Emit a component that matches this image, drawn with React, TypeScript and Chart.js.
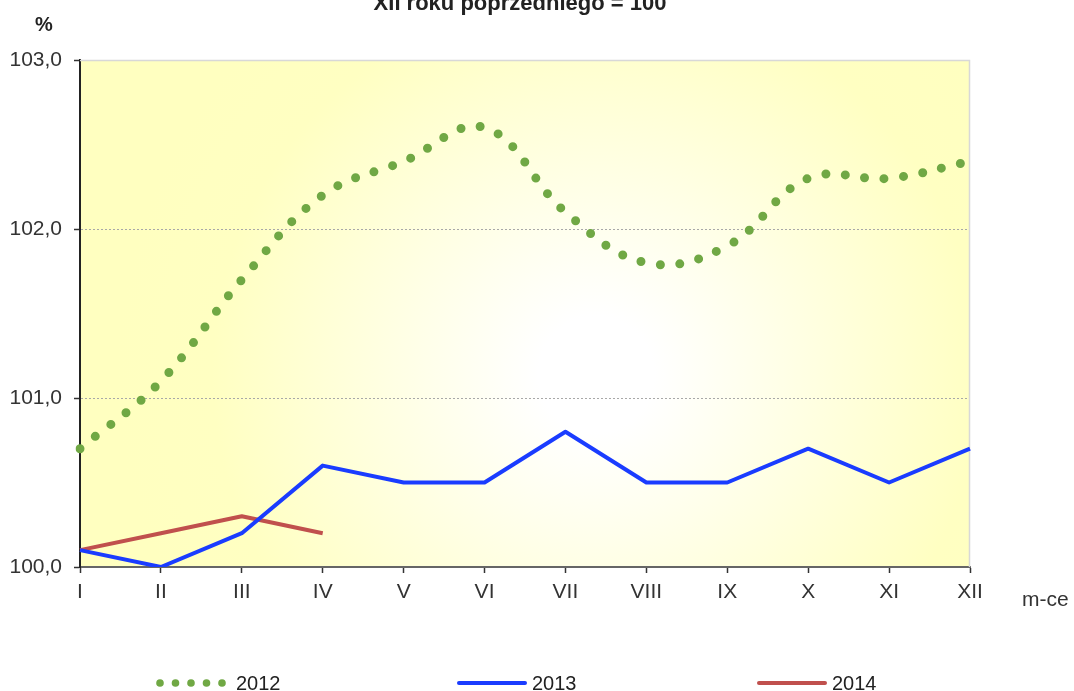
import React, { useEffect, useRef } from "react";
import { Chart, registerables } from "chart.js";

Chart.register(...registerables);

const months = ["I", "II", "III", "IV", "V", "VI", "VII", "VIII", "IX", "X", "XI", "XII"];
const series2012 = [100.7, 101.1, 101.7, 102.2, 102.4, 102.6, 102.1, 101.8, 101.9, 102.3, 102.3, 102.4];
const series2013 = [100.1, 100.0, 100.2, 100.6, 100.5, 100.5, 100.8, 100.5, 100.5, 100.7, 100.5, 100.7];
const series2014 = [100.1, 100.2, 100.3, 100.2];
const seriesLabels = ["2012", "2013", "2014"];
const yTickValues = [100, 101, 102, 103];
const titleText = "XII roku poprzedniego = 100";
const yUnit = "%";
const xUnit = "m-ce";

const FONT = "'Liberation Sans', Arial, sans-serif";

const decorPlugin = {
  id: "decor",
  beforeDraw(chart: any) {
    const { ctx, chartArea: a } = chart;
    const cx = a.left + (a.right - a.left) * 0.58;
    const cy = a.top + (a.bottom - a.top) * 0.62;
    ctx.save();
    const g2 = ctx.createRadialGradient(cx, cy, 0, cx, cy, 480);
    g2.addColorStop(0, "#ffffff");
    g2.addColorStop(0.12, "#ffffff");
    g2.addColorStop(0.8, "#ffffc2");
    g2.addColorStop(1, "#ffffc0");
    ctx.fillStyle = g2;
    ctx.fillRect(a.left, a.top, a.right - a.left, a.bottom - a.top);
    ctx.restore();
  },
  beforeDatasetsDraw(chart: any) {
    const { ctx, chartArea: a } = chart;
    ctx.save();
    ctx.strokeStyle = "#d8d8d8";
    ctx.lineWidth = 1.5;
    ctx.beginPath();
    ctx.moveTo(a.left, a.top + 0.5);
    ctx.lineTo(a.right - 0.5, a.top + 0.5);
    ctx.lineTo(a.right - 0.5, a.bottom);
    ctx.stroke();
    ctx.restore();
  },
  afterDraw(chart: any) {
    const { ctx } = chart;
    ctx.save();
    ctx.fillStyle = "#222";
    ctx.textAlign = "center";
    ctx.textBaseline = "alphabetic";
    ctx.font = `bold 22px ${FONT}`;
    ctx.fillText(titleText, 520, 10);
    ctx.font = `bold 20px ${FONT}`;
    ctx.textAlign = "left";
    ctx.fillText(yUnit, 35, 31);
    ctx.font = `21px ${FONT}`;
    ctx.fillStyle = "#333";
    ctx.fillText(xUnit, 1022, 606);

    // legend
    const items = chart.data.datasets;
    const starts = [158, 457, 757];
    const ly = 683;
    items.forEach((ds: any, i: number) => {
      const x0 = starts[i];
      ctx.strokeStyle = ds.borderColor;
      ctx.lineCap = "round";
      if (ds.borderDash && ds.borderDash.length) {
        ctx.fillStyle = ds.borderColor;
        for (let k = 0; k < 5; k++) {
          ctx.beginPath();
          ctx.arc(x0 + 2 + k * 15.5, ly, 3.8, 0, Math.PI * 2);
          ctx.fill();
        }
      } else {
        ctx.lineWidth = 4;
        ctx.beginPath();
        ctx.moveTo(x0 + 2, ly);
        ctx.lineTo(x0 + 68, ly);
        ctx.stroke();
      }
      ctx.fillStyle = "#222";
      ctx.font = `20px ${FONT}`;
      ctx.textAlign = "left";
      ctx.textBaseline = "middle";
      ctx.fillText(ds.label, x0 + (i === 0 ? 78 : 75), ly + 1);
    });
    ctx.restore();
  },
};

export default function App() {
  const ref = useRef<HTMLCanvasElement | null>(null);
  useEffect(() => {
    document.body.style.margin = "0";
    const canvas = ref.current!;
    const chart = new Chart(canvas, {
      type: "line",
      data: {
        labels: months,
        datasets: [
          {
            label: seriesLabels[0],
            data: series2012,
            borderColor: "#70a844",
            borderWidth: 9,
            borderDash: [0, 19.5],
            borderCapStyle: "round",
            tension: 0.4,
            pointRadius: 0,
            fill: false,
          },
          {
            label: seriesLabels[1],
            data: series2013,
            borderColor: "#1a3cff",
            borderWidth: 4,
            tension: 0,
            pointRadius: 0,
            borderJoinStyle: "round",
            fill: false,
          },
          {
            label: seriesLabels[2],
            data: series2014,
            borderColor: "#c0504d",
            borderWidth: 4,
            tension: 0,
            pointRadius: 0,
            borderJoinStyle: "round",
            fill: false,
          },
        ],
      },
      options: {
        animation: false,
        responsive: false,
        maintainAspectRatio: false,
        layout: { padding: { left: 0, top: 60, right: 104, bottom: 0 } },
        plugins: {
          legend: { display: false },
          tooltip: { enabled: false },
          title: { display: false },
        },
        scales: {
          x: {
            type: "category",
            offset: false,
            afterFit: (s: any) => {
              s.height = 124;
            },
            grid: {
              drawOnChartArea: false,
              tickLength: 6,
              tickColor: "#333",
              tickWidth: 1.5,
            },
            border: { color: "#666", width: 2 },
            ticks: {
              color: "#333",
              font: { family: FONT, size: 21 },
              padding: 7,
              maxRotation: 0,
              autoSkip: false,
            },
          },
          y: {
            min: 100,
            max: 103,
            afterFit: (s: any) => {
              s.width = 80;
            },
            afterBuildTicks: (s: any) => {
              s.ticks = yTickValues.map((v) => ({ value: v }));
            },
            grid: {
              color: (c: any) =>
                c.tick && (c.tick.value === 101 || c.tick.value === 102) ? "#a8a8a8" : "rgba(0,0,0,0)",
              lineWidth: 1,
              tickLength: 6,
              tickColor: "#333",
              tickWidth: 1.5,
            },
            border: { color: "#222", width: 2, dash: [2, 2] },
            ticks: {
              color: "#333",
              font: { family: FONT, size: 21 },
              padding: 12,
              callback: (v: any) => Number(v).toFixed(1).replace(".", ","),
            },
          },
        },
      },
      plugins: [decorPlugin],
    });
    return () => chart.destroy();
  }, []);
  return (
    <div style={{ position: "absolute", left: 0, top: 0, width: 1074, height: 691 }}>
      <canvas ref={ref} width={1074} height={691} style={{ width: 1074, height: 691 }} />
    </div>
  );
}
